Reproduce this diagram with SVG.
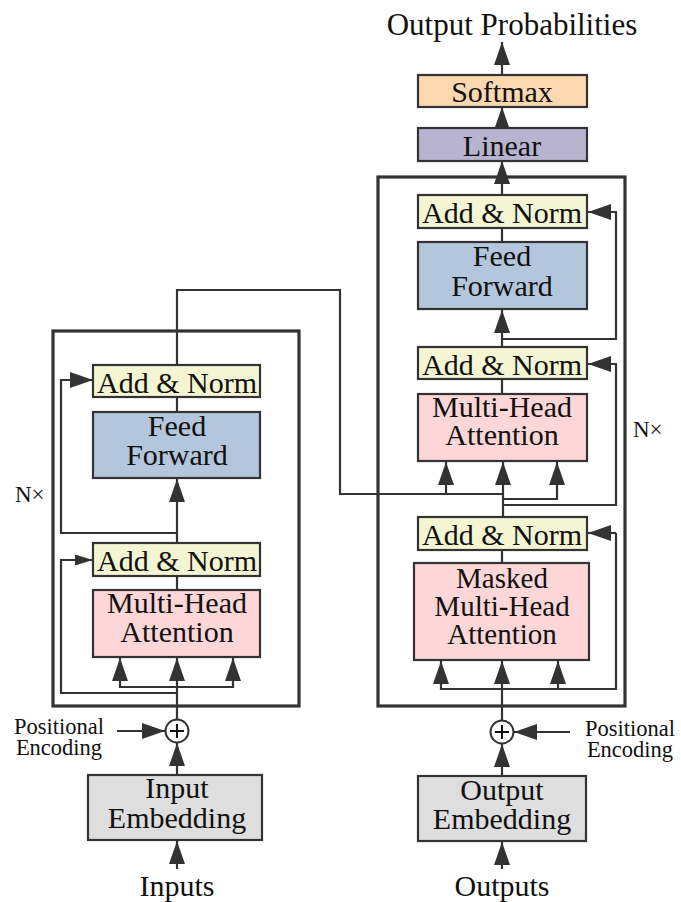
<svg xmlns="http://www.w3.org/2000/svg" width="681" height="902" viewBox="0 0 681 902">
  <style>
    .lbl { font-family: "Liberation Serif", "Times New Roman", serif; font-size: 30px; fill: #111; text-anchor: middle; }
    .lbl3 { font-family: "Liberation Serif", "Times New Roman", serif; font-size: 29px; fill: #111; text-anchor: middle; }
    .small { font-family: "Liberation Serif", "Times New Roman", serif; font-size: 22.5px; fill: #111; text-anchor: middle; }
    .nx { font-family: "Liberation Serif", "Times New Roman", serif; font-size: 23px; fill: #111; }
    .box { stroke: #333; stroke-width: 2.2; }
    .stack { fill: none; stroke: #333; stroke-width: 3.2; }
    .norm { fill: #f3f5d3; }
    .ff { fill: #b3c6dc; }
    .mha { fill: #fdd7d7; }
    .emb { fill: #dedede; }
    .lin { fill: #b8b4cf; }
    .soft { fill: #fcd8b1; }
    .wire { fill: none; stroke: #333; stroke-width: 2.2; }
    .arr { marker-end: url(#head); }
    .arr-sm { marker-end: url(#head-sm); }
  </style>
  <defs>
    <marker id="head" markerUnits="userSpaceOnUse" markerWidth="24" markerHeight="16" refX="23" refY="8" orient="auto">
      <path d="M0,0 L23,8 L0,16 Z" fill="#333"/>
    </marker>
    <marker id="head-sm" markerUnits="userSpaceOnUse" markerWidth="19" markerHeight="12" refX="18" refY="6" orient="auto">
      <path d="M0,0.5 L18,6 L0,11.5 Z" fill="#333"/>
    </marker>
  </defs>

  <rect width="681" height="902" fill="#fff"/>

  <!-- stack frames -->
  <rect id="encoder-stack" class="stack" x="53" y="331" width="246" height="375"/>
  <rect id="decoder-stack" class="stack" x="378" y="177" width="247" height="529"/>

  <!-- connectors -->
  <g id="connectors">
    <!-- encoder input path -->
    <line class="wire arr" x1="177" y1="869" x2="177" y2="841"/>
    <line class="wire arr" x1="177" y1="775" x2="177" y2="743"/>
    <line class="wire arr" x1="117" y1="731" x2="165" y2="731"/>
    <line class="wire arr" x1="177" y1="719" x2="177" y2="658"/>
    <polyline class="wire" points="120,667 120,687 233,687 233,667"/>
    <line class="wire arr" x1="120" y1="680" x2="120" y2="658"/>
    <line class="wire arr" x1="233" y1="680" x2="233" y2="658"/>
    <polyline class="wire arr-sm" points="177,693 61,693 61,560 93,560"/>
    <line class="wire" x1="177" y1="590" x2="177" y2="576"/>
    <line class="wire arr" x1="177" y1="543" x2="177" y2="479"/>
    <polyline class="wire arr" points="177,533 61,533 61,380 93,380"/>
    <line class="wire" x1="177" y1="412" x2="177" y2="397"/>
    <!-- encoder output into decoder attention -->
    <polyline class="wire" points="177,365 177,290 340,290 340,494 503,494"/>
    <line class="wire arr" x1="446" y1="494" x2="446" y2="462"/>
    <line class="wire arr" x1="503" y1="517" x2="503" y2="462"/>

    <!-- decoder input path -->
    <line class="wire arr" x1="502" y1="869" x2="502" y2="842"/>
    <line class="wire arr" x1="502" y1="776" x2="502" y2="744"/>
    <line class="wire arr" x1="570" y1="732" x2="514" y2="732"/>
    <line class="wire arr" x1="502" y1="720" x2="502" y2="661"/>
    <polyline class="wire" points="441,670 441,689 616,689 616,533"/>
    <line class="wire arr" x1="441" y1="685" x2="441" y2="661"/>
    <line class="wire arr" x1="558" y1="689" x2="558" y2="661"/>
    <line class="wire arr" x1="616" y1="533" x2="588" y2="533"/>
    <line class="wire" x1="502" y1="563" x2="502" y2="550"/>
    <polyline class="wire arr" points="503,499 557,499 557,462"/>
    <polyline class="wire arr" points="503,505 616,505 616,364 588,364"/>
    <line class="wire" x1="502" y1="394" x2="502" y2="379"/>
    <line class="wire arr" x1="502" y1="347" x2="502" y2="310"/>
    <polyline class="wire arr" points="502,339 616,339 616,212 588,212"/>
    <line class="wire" x1="502" y1="242" x2="502" y2="228"/>
    <line class="wire arr" x1="502" y1="195" x2="502" y2="161"/>
    <line class="wire arr" x1="502" y1="128" x2="502" y2="107"/>
    <line class="wire arr" x1="502" y1="75" x2="502" y2="42"/>
  </g>

  <!-- encoder -->
  <g id="enc-add-norm-2">
    <rect class="box norm" x="93" y="365" width="167" height="32"/>
    <text class="lbl" x="177" y="393">Add &amp; Norm</text>
  </g>
  <g id="enc-feed-forward">
    <rect class="box ff" x="93" y="412" width="167" height="66"/>
    <text class="lbl" x="177" y="436">Feed</text>
    <text class="lbl" x="177" y="465">Forward</text>
  </g>
  <g id="enc-add-norm-1">
    <rect class="box norm" x="93" y="543" width="167" height="33"/>
    <text class="lbl" x="177" y="571">Add &amp; Norm</text>
  </g>
  <g id="enc-attention">
    <rect class="box mha" x="93" y="590" width="167" height="67"/>
    <text class="lbl" x="177" y="613">Multi-Head</text>
    <text class="lbl" x="177" y="642">Attention</text>
  </g>
  <g id="enc-pos-add">
    <circle cx="177" cy="731" r="11.5" fill="#fff" stroke="#333" stroke-width="2"/>
    <path d="M170,731 H184 M177,724 V738" stroke="#111" stroke-width="2"/>
  </g>
  <g id="enc-pos-label">
    <text class="small" x="59" y="734">Positional</text>
    <text class="small" x="59" y="755">Encoding</text>
  </g>
  <g id="input-embedding">
    <rect class="box emb" x="88" y="775" width="174" height="65"/>
    <text class="lbl" x="177" y="798">Input</text>
    <text class="lbl" x="177" y="828">Embedding</text>
  </g>
  <g id="inputs">
    <text class="lbl" x="177" y="896">Inputs</text>
  </g>
  <g id="enc-repeat">
    <text class="nx" x="15" y="502">N×</text>
  </g>

  <!-- decoder -->
  <g id="output-probabilities">
    <text class="lbl" x="512" y="35" style="font-size:31px">Output Probabilities</text>
  </g>
  <g id="softmax">
    <rect class="box soft" x="418" y="75" width="169" height="32"/>
    <text class="lbl" x="502" y="102">Softmax</text>
  </g>
  <g id="linear">
    <rect class="box lin" x="418" y="128" width="169" height="33"/>
    <text class="lbl" x="502" y="156">Linear</text>
  </g>
  <g id="dec-add-norm-3">
    <rect class="box norm" x="418" y="195" width="169" height="33"/>
    <text class="lbl" x="502" y="223">Add &amp; Norm</text>
  </g>
  <g id="dec-feed-forward">
    <rect class="box ff" x="418" y="242" width="169" height="67"/>
    <text class="lbl" x="502" y="266">Feed</text>
    <text class="lbl" x="502" y="296">Forward</text>
  </g>
  <g id="dec-add-norm-2">
    <rect class="box norm" x="418" y="347" width="169" height="32"/>
    <text class="lbl" x="502" y="375">Add &amp; Norm</text>
  </g>
  <g id="dec-cross-attention">
    <rect class="box mha" x="418" y="394" width="169" height="67"/>
    <text class="lbl" x="502" y="417">Multi-Head</text>
    <text class="lbl" x="502" y="445">Attention</text>
  </g>
  <g id="dec-add-norm-1">
    <rect class="box norm" x="418" y="517" width="169" height="33"/>
    <text class="lbl" x="502" y="545">Add &amp; Norm</text>
  </g>
  <g id="dec-masked-attention">
    <rect class="box mha" x="414" y="563" width="175" height="97"/>
    <text class="lbl3" x="502" y="588">Masked</text>
    <text class="lbl3" x="502" y="616">Multi-Head</text>
    <text class="lbl3" x="502" y="644">Attention</text>
  </g>
  <g id="dec-repeat">
    <text class="nx" x="633" y="437">N×</text>
  </g>
  <g id="dec-pos-add">
    <circle cx="502" cy="732" r="11.5" fill="#fff" stroke="#333" stroke-width="2"/>
    <path d="M495,732 H509 M502,725 V739" stroke="#111" stroke-width="2"/>
  </g>
  <g id="dec-pos-label">
    <text class="small" x="630" y="736">Positional</text>
    <text class="small" x="630" y="757">Encoding</text>
  </g>
  <g id="output-embedding">
    <rect class="box emb" x="418" y="776" width="168" height="65"/>
    <text class="lbl" x="502" y="800">Output</text>
    <text class="lbl" x="502" y="829">Embedding</text>
  </g>
  <g id="outputs">
    <text class="lbl" x="502" y="896">Outputs</text>
  </g>
</svg>
